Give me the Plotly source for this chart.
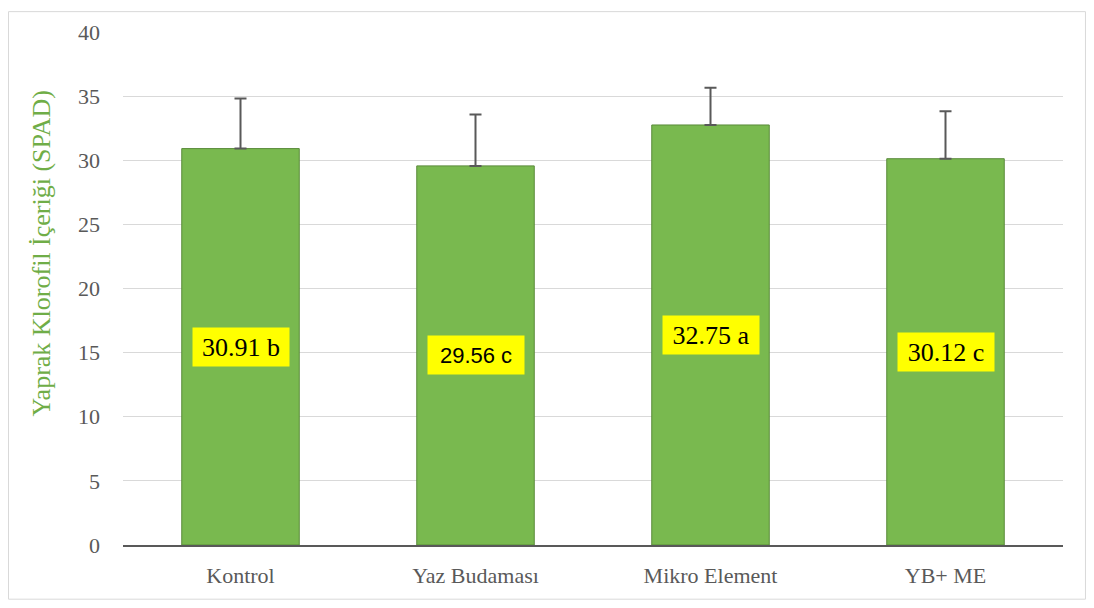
import plotly.graph_objects as go

categories = ["Kontrol", "Yaz Budaması", "Mikro Element", "YB+ ME"]
values = [30.91, 29.56, 32.75, 30.12]
errors = [3.9, 4.0, 2.9, 3.7]
letters = ["b", "c", "a", "c"]
y_ticks = [0, 5, 10, 15, 20, 25, 30, 35, 40]

serif = "Liberation Serif"
sans = "Liberation Sans"
label_fonts = [serif, sans, serif, serif]
label_sizes = [26, 22, 26, 26]

fig = go.Figure()
fig.add_trace(go.Bar(
    x=categories, y=values, width=0.5,
    marker=dict(color="#79B94F", line=dict(color="#5A8A3A", width=1)),
    error_y=dict(type="data", symmetric=False, array=errors,
                 arrayminus=[0] * len(errors), visible=True, color="#595959",
                 thickness=2, width=6),
    hoverinfo="x+y",
))

for c, v, l, f, s in zip(categories, values, letters, label_fonts, label_sizes):
    fig.add_annotation(
        x=c, y=v / 2, xref="x", yref="y", text=f"{v:.2f} {l}",
        showarrow=False, bgcolor="#FFFF00", borderpad=3,
        width=90, height=32,
        font=dict(family=f, size=s, color="#000000"),
    )

fig.add_annotation(
    x=-0.0862, y=0.568, xref="paper", yref="paper",
    xanchor="center", yanchor="middle",
    text="Yaprak Klorofil İçeriği (SPAD)", textangle=-90, showarrow=False,
    font=dict(family=serif, size=26, color="#70AD47"),
)

fig.add_shape(type="rect", xref="paper", yref="paper",
              x0=-0.1218, x1=1.0239, y0=-0.1056, y1=1.0397,
              line=dict(color="#D9D9D9", width=1), fillcolor="rgba(0,0,0,0)",
              layer="below")

fig.update_layout(
    width=1078, height=592,
    margin=dict(l=115, r=23, t=21, b=55),
    paper_bgcolor="white", plot_bgcolor="white",
    showlegend=False,
    bargap=0.5,
    xaxis=dict(
        showgrid=False, showline=True, linecolor="#595959", linewidth=2,
        ticks="", ticklabelstandoff=10,
        tickfont=dict(family=serif, size=22, color="#595959"),
    ),
    yaxis=dict(
        range=[0, 40], tickvals=y_ticks, showgrid=True, gridcolor="#D9D9D9",
        gridwidth=1, zeroline=False, showline=False, ticks="",
        ticklabelstandoff=22,
        tickfont=dict(family=serif, size=22, color="#595959"),
    ),
)

fig.write_html("out.html")
